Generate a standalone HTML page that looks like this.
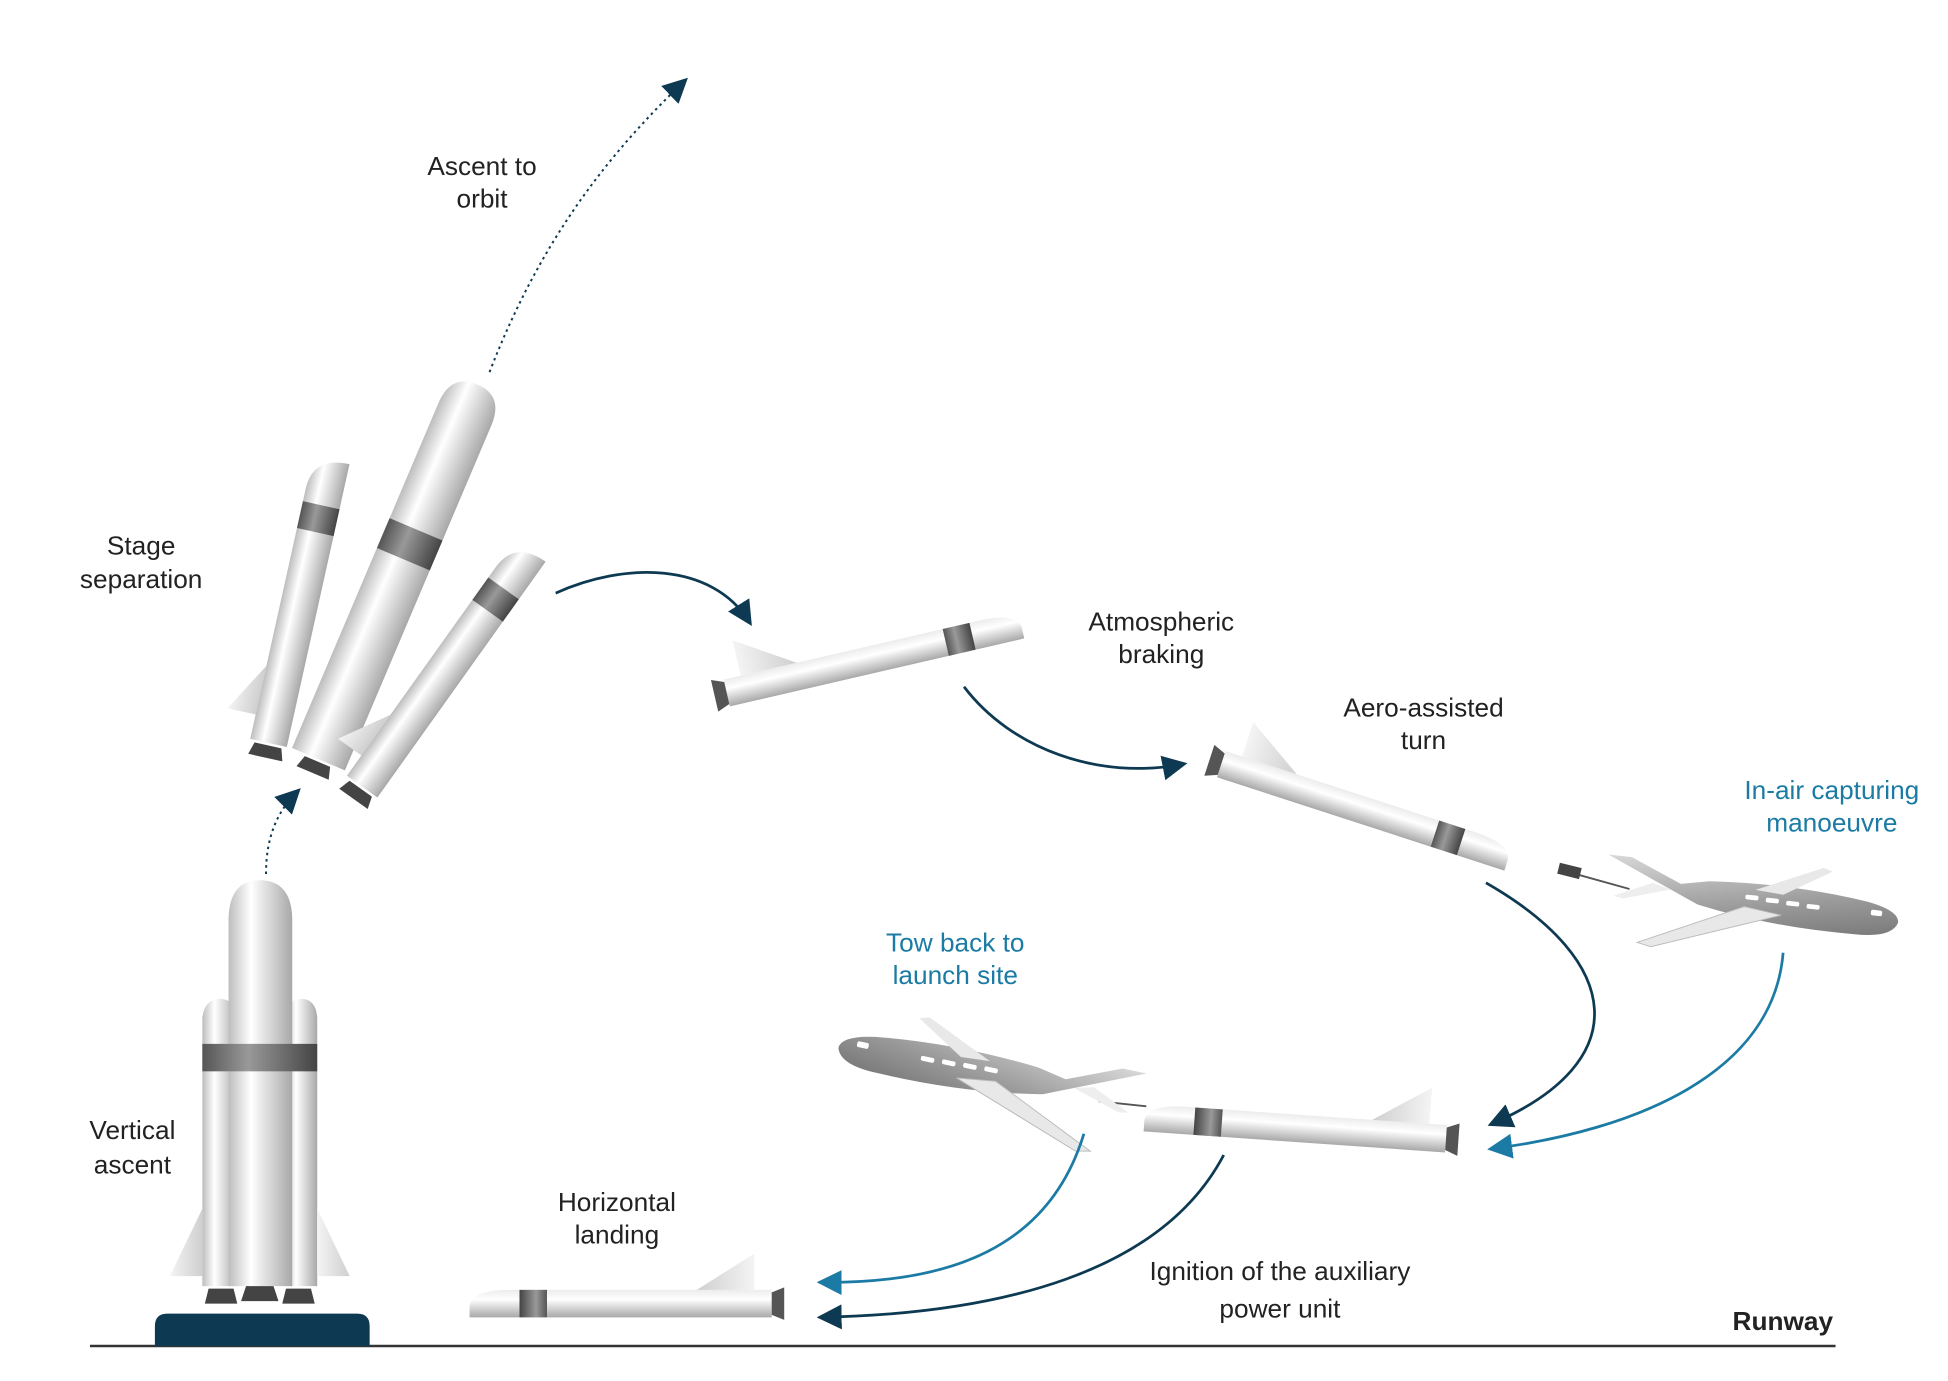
<!DOCTYPE html>
<html><head><meta charset="utf-8"><style>html,body{margin:0;padding:0;background:#fff}svg{display:block}text{font-family:"Liberation Sans",sans-serif;font-size:21px;fill:#222}</style></head>
<body>
<svg width="1948" height="1381" viewBox="0 0 1560 1106" xmlns="http://www.w3.org/2000/svg">
<defs>
<linearGradient id="cyl" x1="0" x2="1" y1="0" y2="0"><stop offset="0" stop-color="#bdbdbd"/><stop offset="0.35" stop-color="#ffffff"/><stop offset="1" stop-color="#a8a8a8"/></linearGradient>
<linearGradient id="cylv" x1="0" x2="0" y1="0" y2="1"><stop offset="0" stop-color="#ececec"/><stop offset="0.35" stop-color="#ffffff"/><stop offset="1" stop-color="#a8a8a8"/></linearGradient>
<linearGradient id="band" x1="0" x2="1"><stop offset="0" stop-color="#555"/><stop offset="0.4" stop-color="#999"/><stop offset="1" stop-color="#444"/></linearGradient>
<linearGradient id="fin" x1="0" x2="1"><stop offset="0" stop-color="#f4f4f4"/><stop offset="1" stop-color="#cfcfcf"/></linearGradient>
<linearGradient id="ap" x1="0" x2="1" y1="0" y2="1"><stop offset="0" stop-color="#d8d8d8"/><stop offset="0.6" stop-color="#9a9a9a"/><stop offset="1" stop-color="#777"/></linearGradient>
<marker id="mdd" viewBox="0 0 10 10" refX="8" refY="5" markerWidth="20" markerHeight="20" orient="auto" markerUnits="userSpaceOnUse"><path d="M0,0 L10,5 L0,10z" fill="#0d3a52"/></marker>
<marker id="mb" viewBox="0 0 10 10" refX="8" refY="5" markerWidth="20" markerHeight="20" orient="auto" markerUnits="userSpaceOnUse"><path d="M0,0 L10,5 L0,10z" fill="#1b7ba4"/></marker>
<g id="booster">
<path d="M-15,0 L-15,-205 Q-15,-232 15,-232 L15,0z" fill="url(#cyl)"/>
<rect x="-15" y="-195" width="30" height="22" fill="url(#band)"/>
<path d="M-15,-60 L-38,-20 L-15,-20z" fill="url(#fin)"/>
<path d="M-11,2 L11,2 L14,12 L-14,12z" fill="#444"/>
</g>
<g id="core">
<path d="M-23,0 L-23,-300 Q-23,-326 0,-326 Q23,-326 23,-300 L23,0z" fill="url(#cyl)"/>
<rect x="-23" y="-200" width="46" height="26" fill="url(#band)"/>
<path d="M-11,2 L11,2 L14,12 L-14,12z" fill="#444"/>
</g>
<g id="sp">
<path d="M0,-11 L210,-11 Q240,-11 242,2 L242,11 L0,11z" fill="url(#cylv)"/>
<rect x="180" y="-11" width="22" height="22" fill="url(#band)"/>
<path d="M14,-11 L60,-11 L14,-40z" fill="url(#fin)"/>
<path d="M0,-9 L-10,-13 L-10,13 L0,9z" fill="#555"/>
</g>
<g id="plane">
<path d="M-10,-18 Q80,-25 160,-14 Q195,-8 195,5 Q190,22 150,22 Q60,24 -20,8 L-120,-35 L-95,-35 L-40,-12z" fill="url(#ap)"/>
<path d="M30,5 L-80,55 L-65,58 L70,10z" fill="#e8e8e8" stroke="#bbb" stroke-width="1"/>
<path d="M40,-14 L110,-45 L120,-42 L70,-12z" fill="#e8e8e8"/>
<path d="M-70,-10 L-110,8 L-100,10 L-50,-5z" fill="#eee"/>
<g fill="#fff"><rect x="30" y="-8" width="14" height="5" rx="2"/><rect x="52" y="-7" width="14" height="5" rx="2"/><rect x="74" y="-6" width="14" height="5" rx="2"/><rect x="96" y="-5" width="14" height="5" rx="2"/><rect x="165" y="-6" width="12" height="6" rx="2"/></g>
</g>
</defs>

<line x1="72" y1="1078" x2="1470" y2="1078" stroke="#333" stroke-width="2"/>
<path d="M124,1078 L124,1062 Q124,1052 134,1052 L286,1052 Q296,1052 296,1062 L296,1078z" fill="#0d3a52"/>

<g>
<path d="M162,1030 L162,815 Q164,800 176,800 Q188,800 190,815 L190,1030z" fill="url(#cyl)"/>
<path d="M228,1030 L228,815 Q230,800 241,800 Q253,800 254,815 L254,1030z" fill="url(#cyl)"/>
<path d="M183,1030 L183,735 Q184,705 208,705 Q233,705 234,735 L234,1030z" fill="url(#cyl)"/>
<rect x="162" y="836" width="92" height="22" fill="url(#band)"/>
<path d="M162,968 L136,1022 L162,1022z" fill="url(#fin)"/>
<path d="M254,968 L280,1022 L254,1022z" fill="url(#fin)"/>
<path d="M167,1032 L187,1032 L190,1044 L164,1044z" fill="#444"/>
<path d="M197,1030 L219,1030 L223,1042 L193,1042z" fill="#444"/>
<path d="M229,1032 L249,1032 L252,1044 L226,1044z" fill="#444"/>
</g>

<use href="#booster" transform="translate(215,595) rotate(12.5)"/>
<use href="#core" transform="translate(255,608) rotate(23)"/>
<use href="#booster" transform="translate(290,630) rotate(35.5)"/>

<use href="#sp" transform="translate(582,555) rotate(-13)"/>
<use href="#sp" transform="translate(978,612) rotate(18)"/>
<use href="#sp" transform="translate(1158,912) rotate(184) scale(1,-1)"/>
<use href="#sp" transform="translate(618,1044) scale(-1,1)"/>

<line x1="1262" y1="700" x2="1305" y2="712" stroke="#555" stroke-width="1.5"/>
<rect x="1248" y="693" width="18" height="9" fill="#444" transform="rotate(14 1257 697)"/>
<use href="#plane" transform="translate(1375,720) rotate(6) scale(0.75)"/>
<line x1="880" y1="882" x2="918" y2="886" stroke="#555" stroke-width="1.5"/>
<use href="#plane" transform="translate(821,867) rotate(192) scale(1,-1) scale(0.78)"/>

<path d="M392,298 C430,200 480,130 548,65" fill="none" stroke="#0d3a52" stroke-width="1.6" stroke-dasharray="2,3" marker-end="url(#mdd)"/>
<path d="M213,700 C213,670 222,650 238,634" fill="none" stroke="#0d3a52" stroke-width="1.6" stroke-dasharray="2,3" marker-end="url(#mdd)"/>
<path d="M445,475 C500,450 570,450 600,498" fill="none" stroke="#0d3a52" stroke-width="2.2" marker-end="url(#mdd)"/>
<path d="M772,550 C810,600 880,625 947,612" fill="none" stroke="#0d3a52" stroke-width="2.2" marker-end="url(#mdd)"/>
<path d="M1190,707 C1300,770 1310,850 1195,900" fill="none" stroke="#0d3a52" stroke-width="2.2" marker-end="url(#mdd)"/>
<path d="M1428,763 C1420,860 1310,905 1195,920" fill="none" stroke="#1b7ba4" stroke-width="2.2" marker-end="url(#mb)"/>
<path d="M868,908 C840,1000 760,1028 658,1027" fill="none" stroke="#1b7ba4" stroke-width="2.2" marker-end="url(#mb)"/>
<path d="M980,925 C930,1020 800,1052 658,1055" fill="none" stroke="#0d3a52" stroke-width="2.2" marker-end="url(#mdd)"/>

<g text-anchor="middle">
<text x="386" y="140">Ascent to</text><text x="386" y="166">orbit</text>
<text x="113" y="444">Stage</text><text x="113" y="471">separation</text>
<text x="930" y="505">Atmospheric</text><text x="930" y="531">braking</text>
<text x="1140" y="574">Aero-assisted</text><text x="1140" y="600">turn</text>
<text x="1467" y="640" style="fill:#1b7ba4">In-air capturing</text><text x="1467" y="666" style="fill:#1b7ba4">manoeuvre</text>
<text x="765" y="762" style="fill:#1b7ba4">Tow back to</text><text x="765" y="788" style="fill:#1b7ba4">launch site</text>
<text x="106" y="912">Vertical</text><text x="106" y="940">ascent</text>
<text x="494" y="970">Horizontal</text><text x="494" y="996">landing</text>
<text x="1025" y="1025">Ignition of the auxiliary</text><text x="1025" y="1055">power unit</text>
</g>
<text x="1468" y="1065" text-anchor="end" style="font-weight:bold;font-size:21px">Runway</text>
</svg>
</body></html>
